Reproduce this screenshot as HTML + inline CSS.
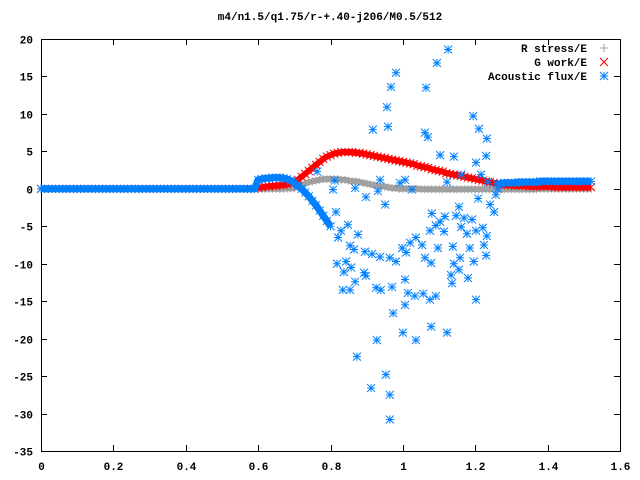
<!DOCTYPE html>
<html><head><meta charset="utf-8"><style>
body{margin:0;background:#fff}
svg{display:block}
text{font-family:"Liberation Mono","DejaVu Sans Mono",monospace;font-size:11px;font-weight:bold;fill:#000}
</style></head><body>
<svg id="chart" width="640" height="480" xmlns="http://www.w3.org/2000/svg">
<rect width="640" height="480" fill="#fff"/>
<text x="330" y="20" text-anchor="middle">m4/n1.5/q1.75/r-+.40-j206/M0.5/512</text>
<g id="axes"></g>
<g id="series"></g>
<g id="legend">
<text x="587" y="52" text-anchor="end">R stress/E</text>
<text x="587" y="66" text-anchor="end">G work/E</text>
<text x="587" y="80" text-anchor="end">Acoustic flux/E</text>
</g>
</svg>
<script>
const xTicks=[0,0.2,0.4,0.6,0.8,1,1.2,1.4,1.6];
const xTickLabels=["0","0.2","0.4","0.6","0.8","1","1.2","1.4","1.6"];
const yTicks=[20,15,10,5,0,-5,-10,-15,-20,-25,-30,-35];
const yTickLabels=["20","15","10","5","0","-5","-10","-15","-20","-25","-30","-35"];
const curveStart=0.60, curveStep=0.01;
const rStress=[0,0,0,0,0,0,0,0,0.05,0.05,0.1,0.3,0.5,0.7,0.9,1.0,1.1,1.2,1.3,1.3,1.3,1.3,1.3,1.2,1.2,1.1,1.0,1.0,0.9,0.8,0.7,0.6,0.5,0.4,0.3,0.3,0.2,0.1,0.1,0,0,0,0,0,0,-0.05,-0.05,-0.05,-0.05,-0.05,-0.05,-0.05,-0.05,-0.05,-0.05,-0.05,-0.05,-0.05,-0.05,-0.05,-0.05,-0.05,-0.05,-0.05,-0.05,-0.05,-0.05,-0.05,-0.05,-0.05,-0.05,-0.05,-0.05,-0.05,-0.05,-0.05,-0.05,-0.05,0,0,0,0,0,0,0,0,0,0,0,0,0,0,0];
const gWork=[0.1,0.2,0.3,0.3,0.4,0.4,0.5,0.5,0.6,0.7,0.9,1.2,1.6,2.0,2.4,2.8,3.2,3.6,4.0,4.3,4.5,4.7,4.8,4.9,4.9,4.9,4.9,4.8,4.8,4.7,4.6,4.5,4.4,4.3,4.2,4.1,4.0,3.9,3.8,3.7,3.6,3.5,3.4,3.3,3.1,3.0,2.9,2.8,2.6,2.5,2.4,2.3,2.1,2.0,1.9,1.8,1.7,1.6,1.5,1.4,1.3,1.2,1.1,1.0,0.9,0.8,0.7,0.6,0.5,0.5,0.5,0.4,0.4,0.4,0.4,0.3,0.3,0.3,0.3,0.3,0.3,0.3,0.2,0.2,0.2,0.2,0.2,0.2,0.2,0.2,0.2,0.2,0.2];
const acousticLow=[0,0,0,0,0,0,0,0,0,0,0,0,0,0,0,0,0,0,0,0,0,0,0,0,0,0,0,0,0,0,0,0,0,0,0,0,0,0,0,0,0,0,0,0,0,0,0,0,0,0,0,0,0,0,0,0,0,0,0,0,1.2,1.3,1.4,1.4,1.5,1.5,1.5,1.4,1.3,1.1,0.8,0.4,0,-0.5,-1,-1.6,-2.2,-2.9,-3.6,-4.3,-5];
const tailStart=1.26;
const acousticTail=[0.7,0.7,0.8,0.8,0.8,0.8,0.9,0.9,0.9,0.9,0.9,0.9,1.0,1.0,1.0,1.0,1.0,1.0,1.0,1.0,1.0,1.0,1.0,1.0,1.0,1.0,1.0];
const scatX=[1.125,1.094,0.981,0.967,0.956,1.064,1.194,1.061,1.210,0.917,0.959,1.069,1.103,1.232,1.230,1.202,1.216,1.141,1.161,1.122,1.006,0.992,1.025,0.937,0.898,0.931,0.951,0.868,0.812,0.807,0.763,0.815,0.848,0.876,0.821,0.829,0.854,0.865,0.895,0.915,0.937,0.964,0.981,1.009,1.020,0.998,1.036,1.053,1.061,1.078,1.097,1.075,1.091,1.103,1.080,1.116,1.147,1.169,1.155,1.191,1.208,1.221,1.232,1.241,1.252,1.257,1.235,1.263,0.843,0.857,0.818,0.837,0.893,0.854,0.834,0.868,0.898,0.926,0.939,1.006,1.006,0.970,1.014,1.033,1.056,1.091,1.133,1.136,1.141,1.158,1.155,1.180,1.196,1.230,1.224,1.202,1.177,1.202,1.075,1.122,1.078,0.928,0.873,0.953,0.912,0.964,0.964,1.036,0.973,1.000,1.161,1.138,1.114,1.185];
const scatY=[18.6,16.8,15.5,13.6,10.9,13.5,9.7,7.5,8.0,7.9,8.3,6.9,4.5,6.7,4.4,3.5,1.9,4.3,1.9,0.9,1.2,0.8,-0.1,1.2,-1.1,-0.3,-2.1,0.1,1.1,-0.1,2.3,-3.1,-4.8,-6.1,-6.5,-5.6,-7.6,-8.1,-8.4,-8.7,-9.1,-9.2,-9.7,-8.5,-7.2,-7.9,-6.5,-7.5,-9.2,-9.9,-7.9,-5.6,-4.9,-4.4,-3.3,-3.7,-3.6,-3.9,-2.4,-4.1,-1.3,-5.2,-6.3,-2.1,-3.1,-0.8,0.9,0.0,-9.7,-10.5,-10.0,-11.1,-11.2,-13.5,-13.5,-12.4,-11.6,-13.2,-13.5,-12.1,-15.5,-13.1,-13.9,-14.3,-14.0,-14.3,-11.5,-12.6,-10.0,-9.2,-10.8,-11.9,-9.7,-8.9,-7.5,-5.6,-6.0,-14.8,-14.8,-19.2,-18.4,-20.2,-22.4,-24.8,-26.6,-27.5,-30.8,-20.2,-16.6,-19.2,-5.1,-7.7,-5.7,-7.9];

const X0=41,X1=620,Y0=451,Y1=39;
const sx=v=>X0+(v-0)/(1.6-0)*(X1-X0);
const sy=v=>Y0-(v+35)/(55)*(Y0-Y1);
const NS="http://www.w3.org/2000/svg";
const axes=document.getElementById('axes'), ser=document.getElementById('series');
function mk(t,a,p){const e=document.createElementNS(NS,t);for(const k in a)e.setAttribute(k,a[k]);p.appendChild(e);return e;}
const frame=mk('rect',{x:X0+0.5,y:Y1+0.5,width:X1-X0,height:Y0-Y1,fill:'none',stroke:'#000','stroke-width':1},axes);


xTicks.forEach((t,i)=>{const x=Math.round(sx(t))+0.5;
 mk('path',{d:`M${x} ${Y0}v-6M${x} ${Y1}v6`,stroke:'#000'},axes);
 const tx=mk('text',{x:x,y:470,'text-anchor':'middle'},axes);tx.textContent=xTickLabels[i];
 
 });
yTicks.forEach((t,i)=>{const y=Math.round(sy(t))+0.5;
 mk('path',{d:`M${X0} ${y}h6M${X1} ${y}h-6`,stroke:'#000'},axes);
 const tx=mk('text',{x:33,y:y+4,'text-anchor':'end'},axes);tx.textContent=yTickLabels[i];
 
 });
const r=4;
const plus=(x,y)=>`M${x-r} ${y}h${2*r}M${x} ${y-r}v${2*r}`;
const cross=(x,y)=>`M${x-r} ${y-r}l${2*r} ${2*r}M${x-r} ${y+r}l${2*r} ${-2*r}`;
const star=(x,y)=>plus(x,y)+cross(x,y);
function band(name,pts,color,w){let d='';pts.forEach((p,i)=>{d+=(i?'L':'M')+sx(p[0]).toFixed(1)+' '+sy(p[1]).toFixed(1);});
 const g=mk('path',{d:d,stroke:color,fill:'none','stroke-width':w,'stroke-linejoin':'round'},ser);
 
 }
function series(name,pts,fn,color){let d='';pts.forEach(p=>{d+=fn(sx(p[0]),sy(p[1]));});
 const g=mk('path',{d:d,stroke:color,fill:'none','stroke-width':1},ser);
 
 }
const rPts=[];for(let i=0;i<curveStart/curveStep;i++)rPts.push([i*curveStep,0]);
rStress.forEach((v,i)=>rPts.push([curveStart+i*curveStep,v]));
const gPts=[];for(let i=0;i<curveStart/curveStep;i++)gPts.push([i*curveStep,0]);
gWork.forEach((v,i)=>gPts.push([curveStart+i*curveStep,v]));
const aLowPts=[];acousticLow.forEach((v,i)=>aLowPts.push([i*0.01,v]));
const aTailPts=[];acousticTail.forEach((v,i)=>aTailPts.push([tailStart+i*0.01,v]));
const aScat=[];scatX.forEach((v,i)=>aScat.push([v,scatY[i]]));
band('r-stress-band',rPts.slice(60),'#a0a0a0',6);
series('r-stress-series',rPts,plus,'#a0a0a0');
band('g-work-band',gPts.slice(60),'#ff0000',6);
series('g-work-series',gPts,cross,'#ff0000');
band('acoustic-flux-band-low',aLowPts,'#0080ff',7);
band('acoustic-flux-band-tail',aTailPts,'#0080ff',7);
series('acoustic-flux-series',aLowPts.concat(aTailPts,aScat),star,'#0080ff');
const lg=document.getElementById('legend');
const l1=mk('path',{d:plus(604,48),stroke:'#a0a0a0'},lg);


const l2=mk('path',{d:cross(604,62),stroke:'#ff0000'},lg);


const l3=mk('path',{d:star(604,76),stroke:'#0080ff'},lg);


</script>
</body></html>
